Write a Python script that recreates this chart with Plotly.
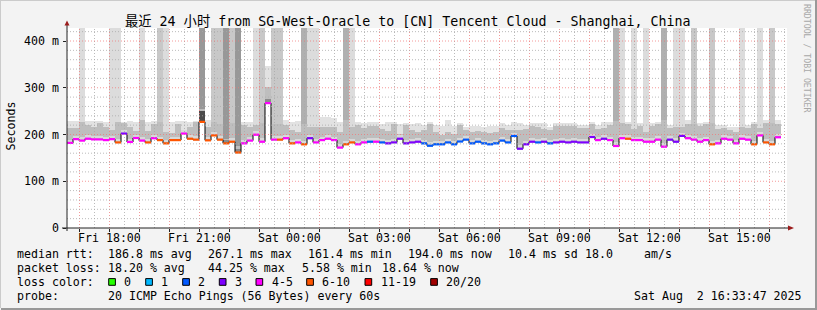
import plotly.graph_objects as go
import pandas as pd

# ---------------- data ----------------
start = pd.Timestamp("2025-08-01 16:35:00")
end = pd.Timestamp("2025-08-02 16:35:00")
STEP_MIN = 12
YMAX = 427.8

median_ms = [182, 190, 187, 191, 189.5, 189.5, 188, 190, 183, 202,
             184, 192.5, 187, 183, 192, 188, 181, 188, 188, 202,
             191, 189, 227, 187.5, 198, 189, 181, 184.6, 161.4, 181,
             187, 199.6, 184.6, 267.1, 189, 189, 192, 181, 183, 179,
             192, 183, 188, 191, 188, 172, 179, 183, 179, 183,
             184.6, 184.6, 183, 181, 183, 191, 181, 183, 184.6, 181,
             176, 179, 179, 183, 179, 185, 189, 181, 184.6, 181,
             179, 181, 187, 183, 196.8, 169.6, 179, 184.6, 183, 184.6,
             181, 183, 184.6, 183, 184.6, 183, 183, 194.6, 188, 191,
             188, 175.4, 192, 191, 188, 188, 184.6, 184.6, 189, 174,
             189, 184.6, 197, 192, 189, 184.6, 188, 179, 181, 191,
             189, 181, 191, 189, 179, 198, 183, 179, 194]

loss_pings = [4, 4, 4, 4, 4, 4, 4, 4, 7, 3,
              4, 4, 4, 7, 4, 7, 7, 7, 7, 4,
              7, 7, 7, 7, 7, 7, 7, 7, 7, 4,
              4, 4, 4, 4, 4, 7, 4, 7, 4, 7,
              3, 4, 4, 4, 4, 4, 7, 7, 4, 4,
              2, 4, 2, 3, 3, 3, 3, 3, 3, 2,
              2, 2, 2, 2, 2, 2, 2, 2, 2, 2,
              2, 2, 2, 2, 2, 3, 3, 3, 2, 3,
              2, 3, 3, 3, 3, 3, 3, 3, 4, 3,
              4, 4, 4, 7, 4, 4, 4, 4, 4, 4,
              3, 3, 3, 4, 4, 4, 4, 7, 4, 4,
              4, 4, 4, 4, 7, 4, 7, 7, 4]

smoke_hi = [228, 228, 228, 229, 228, 228, 226, 228, 228, 227,
            228, 226, 235, 226, 229, 230, 226, 226, 228, 228,
            227, 228, 262, 230, 232, 232, 240, 235, 240, 226,
            226, 230, 232, 346, 232, 232, 231, 226, 228, 230,
            228, 228, 237, 237, 236, 226, 235, 228, 226, 225,
            226, 226, 222, 226, 227, 222, 225, 222, 224, 220,
            227, 220, 218, 231, 219, 224, 217, 218, 218, 217,
            218, 218, 224, 220, 227, 224, 220, 224, 224, 224,
            217, 224, 224, 224, 224, 220, 220, 227, 220, 227,
            227, 232, 228, 227, 220, 224, 222, 224, 227, 235,
            220, 226, 226, 231, 228, 224, 227, 230, 220, 220,
            217, 215, 224, 220, 227, 225, 231, 231, 231]

smoke_mid = [214, 214, 226, 220, 215, 225, 217, 210, 226, 225,
             215, 208, 231, 208, 222, 227, 205, 203, 222, 205,
             216, 227, 255, 215, 226, 222, 190, 225, 175, 220,
             215, 220, 225, 301, 222, 222, 220, 210, 205, 222,
             215, 215, 215, 215, 215, 205, 230, 216, 220, 213,
             218, 218, 212, 208, 222, 202, 220, 210, 205, 210,
             222, 205, 200, 205, 202, 220, 210, 205, 207, 205,
             204, 205, 213, 210, 210, 210, 212, 218, 215, 212,
             210, 218, 218, 218, 218, 213, 213, 222, 212, 213,
             220, 228, 224, 222, 212, 218, 205, 218, 222, 230,
             213, 215, 215, 222, 222, 218, 222, 225, 212, 214,
             210, 205, 215, 214, 222, 214, 225, 224, 222]

smoke_core = [189, 197, 194, 198, 196, 196, 195, 197, 190, 209,
              191, 199, 194, 190, 199, 195, 188, 195, 195, 209,
              198, 196, 250, 194, 205, 196, 188, 192, 170, 188,
              194, 207, 192, 275, 196, 196, 199, 188, 190, 186,
              199, 190, 195, 198, 195, 179, 186, 190, 186, 190,
              192, 192, 190, 188, 190, 198, 188, 190, 192, 188,
              183, 186, 186, 190, 186, 192, 196, 188, 192, 188,
              186, 188, 194, 190, 204, 177, 186, 192, 190, 192,
              188, 190, 192, 190, 192, 190, 190, 202, 195, 198,
              195, 183, 199, 198, 195, 195, 192, 192, 196, 181,
              196, 192, 204, 199, 196, 192, 195, 186, 188, 198,
              196, 188, 198, 196, 186, 205, 190, 186, 201]

core_shade = [1, 1, 1, 1, 1, 1, 1, 1, 1, 1,
              1, 1, 1, 1, 1, 1, 1, 1, 1, 1,
              1, 1, 3, 1, 1, 1, 2, 1, 2, 1,
              1, 1, 1, 2, 1, 1, 1, 1, 1, 1,
              1, 1, 1, 1, 1, 1, 1, 1, 1, 1,
              1, 1, 1, 1, 1, 1, 1, 1, 1, 1,
              1, 1, 1, 1, 1, 1, 1, 1, 1, 1,
              1, 1, 1, 1, 1, 1, 1, 1, 1, 1,
              1, 1, 1, 1, 1, 1, 1, 1, 1, 1,
              1, 1, 1, 1, 1, 1, 1, 1, 1, 1,
              1, 1, 1, 1, 1, 1, 1, 1, 1, 1,
              1, 1, 1, 1, 1, 1, 1, 1, 1]

tall_shade = [0, 0, 1, 0, 0, 0, 0, 1, 1, 0,
              0, 0, 1, 0, 0, 2, 1, 0, 0, 0,
              0, 0, 4, 0, 2, 2, 4, 2, 4, 0,
              0, 1, 2, 0, 2, 2, 0, 0, 0, 3,
              1, 1, 0, 0, 0, 0, 3, 1, 0, 0,
              0, 0, 0, 0, 0, 0, 0, 0, 0, 0,
              0, 0, 0, 0, 0, 0, 0, 0, 0, 0,
              0, 0, 0, 0, 0, 0, 0, 0, 0, 0,
              0, 0, 0, 0, 0, 0, 0, 0, 0, 0,
              0, 3, 1, 0, 1, 0, 1, 0, 0, 3,
              0, 1, 1, 0, 2, 0, 0, 2, 0, 0,
              0, 0, 1, 0, 0, 1, 0, 2, 0]

x_tick_labels = ["Fri 18:00", "Fri 21:00", "Sat 00:00", "Sat 03:00",
                 "Sat 06:00", "Sat 09:00", "Sat 12:00", "Sat 15:00"]
x_tick_times = ["2025-08-01 18:00", "2025-08-01 21:00", "2025-08-02 00:00",
                "2025-08-02 03:00", "2025-08-02 06:00", "2025-08-02 09:00",
                "2025-08-02 12:00", "2025-08-02 15:00"]
y_tick_vals = [0, 100, 200, 300, 400]
y_tick_text = ["0", "100 m", "200 m", "300 m", "400 m"]

loss_classes = [("0", 0, 0, "#26ff00"), ("1", 1, 1, "#00b8ff"),
                ("2", 2, 2, "#0059ff"), ("3", 3, 3, "#7e00ff"),
                ("4-5", 4, 5, "#ff00ff"), ("6-10", 6, 10, "#ff5500"),
                ("11-19", 11, 19, "#ff0000"), ("20/20", 20, 20, "#a00000")]

stats_line1 = [("median rtt:", 16), ("186.8 ms avg", 107.3), ("267.1 ms max", 207.3),
               ("161.4 ms min", 307.3), ("194.0 ms now", 407.3), ("10.4 ms sd", 507.3),
               ("18.0", 584), ("am/s", 642.7)]
stats_line2 = [("packet loss:", 16), ("18.20 % avg", 107.3), ("44.25 % max", 207.3),
               ("5.58 % min", 301), ("18.64 % now", 380.5)]
probe_text = "20 ICMP Echo Pings (56 Bytes) every 60s"
date_text = "Sat Aug  2 16:33:47 2025"
title_text = "最近 24 小时 from SG-West-Oracle to [CN] Tencent Cloud - Shanghai, China"

# ---------------- geometry helpers ----------------
PL, PT, PW, PH = 67, 28, 720, 200
W, H = 817, 310


def px(x):
    return (x - PL) / PW


def py(y):
    return (PT + PH - y) / PH


n = len(median_ms)
step = pd.Timedelta(minutes=STEP_MIN)
t_start = [start + step * i for i in range(n)]
t_end = [t + step for t in t_start]
t_mid = [t + step / 2 for t in t_start]
bar_w = STEP_MIN * 60 * 1000

TALL_COL = {1: "#dcdcdc", 2: "#c8c8c8", 3: "#b0b0b0", 4: "#989898"}
CORE_COL = {1: "#d8d8d8", 2: "#8a8a8a", 3: "#4c4c4c"}

fig = go.Figure()

fig.add_trace(go.Bar(x=t_mid, base=median_ms,
                     y=[h - m for h, m in zip(smoke_hi, median_ms)],
                     width=bar_w, marker_color="#e2e2e2", marker_line_width=0,
                     hoverinfo="skip", showlegend=False))
ti = [i for i in range(n) if tall_shade[i] > 0]
fig.add_trace(go.Bar(x=[t_mid[i] for i in ti], base=[smoke_mid[i] for i in ti],
                     y=[YMAX - smoke_mid[i] for i in ti], width=bar_w,
                     marker_color=[TALL_COL[tall_shade[i]] for i in ti],
                     marker_line_width=0, hoverinfo="skip", showlegend=False))
fig.add_trace(go.Bar(x=t_mid, base=smoke_core,
                     y=[h - m for h, m in zip(smoke_mid, smoke_core)],
                     width=bar_w, marker_color="#bebebe", marker_line_width=0,
                     hoverinfo="skip", showlegend=False))
fig.add_trace(go.Bar(x=t_mid, base=median_ms,
                     y=[h - m for h, m in zip(smoke_core, median_ms)],
                     width=bar_w, marker_color=[CORE_COL[c] for c in core_shade],
                     marker_line_width=0, hoverinfo="skip", showlegend=False))

fig.add_trace(go.Scatter(x=t_start + [t_end[-1]], y=median_ms + [median_ms[-1]],
                         mode="lines", line=dict(color="#000000", width=1, shape="hv"),
                         hoverinfo="skip", showlegend=False))
for name, lo, hi, col in loss_classes:
    xs, ys = [], []
    for i in range(n):
        if lo <= loss_pings[i] <= hi:
            xs += [t_start[i], t_end[i], None]
            ys += [median_ms[i], median_ms[i], None]
    if xs:
        fig.add_trace(go.Scatter(x=xs, y=ys, mode="lines",
                                 line=dict(color=col, width=2.2),
                                 hoverinfo="skip", showlegend=False))

shapes = []
minor_v = pd.date_range("2025-08-01 17:00", "2025-08-02 16:30", freq="30min")
for t in minor_v:
    major = t.minute == 0
    shapes.append(dict(type="line", xref="x", yref="paper", x0=t, x1=t, y0=0, y1=1,
                       layer="above",
                       line=dict(color="rgba(240,120,120,0.75)" if major else "rgba(170,170,170,0.8)",
                                 width=1, dash="1px,2px")))
for v in range(20, 421, 20):
    major = v % 100 == 0
    shapes.append(dict(type="line", xref="paper", yref="y", x0=0, x1=1, y0=v, y1=v,
                       layer="above",
                       line=dict(color="rgba(240,120,120,0.75)" if major else "rgba(170,170,170,0.8)",
                                 width=1, dash="1px,2px")))
shapes.append(dict(type="line", xref="paper", yref="paper", x0=px(62), x1=px(789),
                   y0=py(228), y1=py(228), line=dict(color="#222", width=1), layer="above"))
shapes.append(dict(type="line", xref="paper", yref="paper", x0=px(67), x1=px(67),
                   y0=py(231), y1=py(24), line=dict(color="#222", width=1), layer="above"))
shapes.append(dict(type="path", xref="paper", yref="paper", layer="above",
                   path=f"M {px(788)},{py(225.5)} L {px(794)},{py(228)} L {px(788)},{py(230.5)} Z",
                   fillcolor="#9b1c1c", line=dict(width=0)))
shapes.append(dict(type="path", xref="paper", yref="paper", layer="above",
                   path=f"M {px(64.5)},{py(25.5)} L {px(67)},{py(20.5)} L {px(69.5)},{py(25.5)} Z",
                   fillcolor="#9b1c1c", line=dict(width=0)))
shapes.append(dict(type="line", xref="paper", yref="paper", x0=px(1), x1=px(W), y0=py(H - 1), y1=py(H - 1),
                   line=dict(color="#999", width=2)))
shapes.append(dict(type="line", xref="paper", yref="paper", x0=px(W - 1), x1=px(W - 1), y0=py(0), y1=py(H),
                   line=dict(color="#999", width=2)))
shapes.append(dict(type="line", xref="paper", yref="paper", x0=px(0), x1=px(W - 2), y0=py(0.5), y1=py(0.5),
                   line=dict(color="#cbcbcb", width=1)))
shapes.append(dict(type="line", xref="paper", yref="paper", x0=px(0.5), x1=px(0.5), y0=py(0), y1=py(H - 2),
                   line=dict(color="#cbcbcb", width=1)))

FONT = "DejaVu Sans Mono, Noto Sans CJK SC, monospace"
anns = []


def text(t, x, y, size=11.6, color="#000", anchor="left", **kw):
    anns.append(dict(text=t, x=px(x), y=py(y), xref="paper", yref="paper",
                     xanchor=anchor, yanchor="middle", showarrow=False, borderpad=0,
                     font=dict(family=FONT, size=size, color=color), **kw))


text(title_text, 407.5, 21.5, size=13.3, anchor="center")
text("Seconds", 10.5, 126, anchor="center", textangle=-90)
text("RRDTOOL / TOBI OETIKER", 807, 59, size=8.2, color="#a8a8a8", anchor="center", textangle=90)
for v, lab in zip(y_tick_vals, y_tick_text):
    anns.append(dict(text=lab, x=px(59.5), y=v, xref="paper", yref="y", xanchor="right",
                     yanchor="middle", showarrow=False, borderpad=0,
                     font=dict(family=FONT, size=11.6, color="#000")))
for t, lab in zip(x_tick_times, x_tick_labels):
    anns.append(dict(text=lab, x=pd.Timestamp(t), y=py(237.5), xref="x", yref="paper",
                     xanchor="center", yanchor="middle", showarrow=False, borderpad=0,
                     font=dict(family=FONT, size=11.6, color="#000")))
for t, x in stats_line1:
    text(t, x, 254.3)
for t, x in stats_line2:
    text(t, x, 268.3)
text("loss color:", 16, 282.3)
box_x = [108.7, 145.7, 182.7, 219.3, 256, 306.7, 365, 430.7]
for (name, lo, hi, col), bx in zip(loss_classes, box_x):
    shapes.append(dict(type="rect", xref="paper", yref="paper", x0=px(bx), x1=px(bx + 6.7),
                       y0=py(285.3), y1=py(278.6), fillcolor=col,
                       line=dict(color="#000", width=1)))
    text(name, bx + 14.5, 282.3)
text("probe:", 16, 296.3)
text(probe_text, 107.3, 296.3)
text(date_text, 632.7, 296.3)

fig.update_layout(
    width=W, height=H,
    margin=dict(l=PL, r=W - PL - PW, t=PT, b=H - PT - PH),
    paper_bgcolor="#f3f3f3", plot_bgcolor="#ffffff",
    barmode="overlay", bargap=0, showlegend=False,
    shapes=shapes, annotations=anns,
    xaxis=dict(type="date", range=[start, end], showgrid=False, zeroline=False,
               showline=False, showticklabels=False, ticks="outside", ticklen=3,
               tickcolor="#222", tickmode="linear", tick0="2025-08-01 17:00",
               dtick=3600000, fixedrange=True),
    yaxis=dict(range=[0, YMAX], showgrid=False, zeroline=False, showline=False,
               showticklabels=False, ticks="outside", ticklen=3, tickcolor="#222",
               tickvals=y_tick_vals, fixedrange=True),
)

fig.write_html("out.html", config={"displayModeBar": False, "staticPlot": True})
